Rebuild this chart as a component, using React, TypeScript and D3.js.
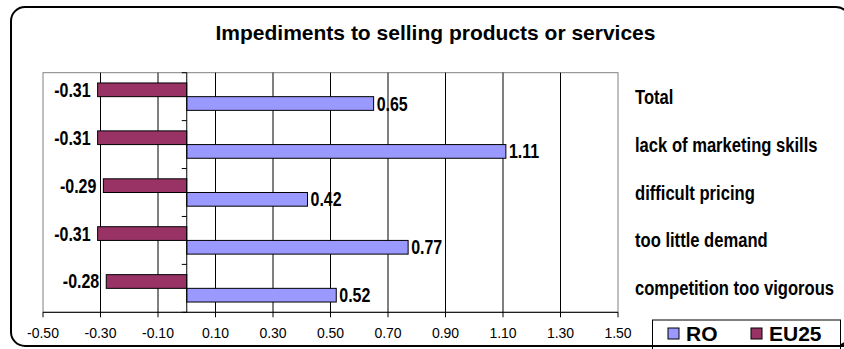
import React from "react";
import * as d3 from "d3";

// Chart data
const categories = [
  "Total",
  "lack of marketing skills",
  "difficult pricing",
  "too little demand",
  "competition too vigorous",
];
const roValues = [0.65, 1.11, 0.42, 0.77, 0.52];
const eu25Values = [-0.31, -0.31, -0.29, -0.31, -0.28];
const seriesNames = ["EU25", "RO"];
const legendNames = ["RO", "EU25"];
const xTickValues = [-0.5, -0.3, -0.1, 0.1, 0.3, 0.5, 0.7, 0.9, 1.1, 1.3, 1.5];
const title = "Impediments to selling products or services";

const W = 844;
const H = 349;
const FONT = "Arial, 'Liberation Sans', Helvetica, sans-serif";
const COLORS: Record<string, string> = { RO: "#9999FF", EU25: "#993366" };

// plain hyphen for negative numbers
const locale = d3.formatLocale({
  decimal: ".",
  thousands: ",",
  grouping: [3],
  currency: ["", ""],
  minus: "-",
});
const fmt = locale.format(".2f");

// tall, narrow bold text used for data and category labels
function TallText(props: {
  x: number;
  y: number;
  size?: number;
  anchor?: "start" | "end" | "middle";
  children: React.ReactNode;
}) {
  return (
    <text
      transform={`translate(${props.x},${props.y}) scale(1,1.22)`}
      textAnchor={props.anchor || "start"}
      fontSize={props.size || 16}
      fontWeight="bold"
      fill="#000"
    >
      {props.children}
    </text>
  );
}

export default function App() {
  const plot = { left: 43, right: 618, top: 72.7, bottom: 312.3 };
  const x = d3.scaleLinear().domain([-0.5, 1.5]).range([plot.left, plot.right]);
  const y = d3.scaleBand<string>().domain(categories).range([plot.top, plot.bottom]);
  const sub = d3
    .scaleBand<string>()
    .domain(seriesNames)
    .range([0, y.bandwidth()])
    .paddingInner(0)
    .paddingOuter(0.75);

  const rows = categories.map((c, i) => ({ cat: c, RO: roValues[i], EU25: eu25Values[i] }));
  const x0 = x(0);
  const baselineShift = 7;

  return (
    <svg
      width={W}
      height={H}
      style={{ position: "absolute", left: 0, top: 0, display: "block", background: "#fff" }}
      fontFamily={FONT}
    >
      {/* outer frame */}
      <rect x={11} y={7} width={839} height={339} rx={14} ry={14} fill="#fff" stroke="#000" strokeWidth={2} />

      <text x={435.5} y={40} textAnchor="middle" fontSize={21} fontWeight="bold" fill="#000">
        {title}
      </text>

      {/* plot area border */}
      <rect
        x={plot.left}
        y={plot.top}
        width={plot.right - plot.left}
        height={plot.bottom - plot.top}
        fill="none"
        stroke="#808080"
        strokeWidth={1}
      />

      {/* vertical gridlines */}
      {xTickValues
        .filter((v) => v > -0.5 && v < 1.5)
        .map((v) => (
          <line key={v} x1={x(v)} x2={x(v)} y1={plot.top} y2={plot.bottom} stroke="#000" strokeWidth={1} />
        ))}

      {/* bars */}
      {rows.map((r) =>
        seriesNames.map((s) => {
          const v = (r as any)[s] as number;
          const by = (y(r.cat) as number) + (sub(s) as number);
          const bx = Math.min(x(v), x0);
          const bw = Math.abs(x(v) - x0);
          return (
            <rect
              key={r.cat + s}
              x={bx}
              y={by}
              width={bw}
              height={sub.bandwidth()}
              fill={COLORS[s]}
              stroke="#000"
              strokeWidth={1}
            />
          );
        })
      )}

      {/* value labels */}
      {rows.map((r) =>
        seriesNames.map((s) => {
          const v = (r as any)[s] as number;
          const cy = (y(r.cat) as number) + (sub(s) as number) + sub.bandwidth() / 2;
          const neg = v < 0;
          return (
            <TallText
              key={"l" + r.cat + s}
              x={neg ? x(v) - 7 : x(v) + 3}
              y={cy + baselineShift}
              anchor={neg ? "end" : "start"}
            >
              {fmt(v)}
            </TallText>
          );
        })
      )}

      {/* zero axis with category ticks */}
      <line x1={x0} x2={x0} y1={plot.top} y2={plot.bottom} stroke="#000" strokeWidth={1} />
      {categories.map((c) => (
        <line key={"t" + c} x1={x0 - 5} x2={x0} y1={y(c) as number} y2={y(c) as number} stroke="#000" />
      ))}
      <line x1={x0 - 5} x2={x0} y1={plot.bottom} y2={plot.bottom} stroke="#000" />

      {/* bottom value axis */}
      <line x1={plot.left} x2={plot.right} y1={plot.bottom} y2={plot.bottom} stroke="#000" strokeWidth={1} />
      {xTickValues.map((v) => (
        <g key={"x" + v}>
          <line x1={x(v)} x2={x(v)} y1={plot.bottom} y2={plot.bottom + 5} stroke="#000" />
          <text x={x(v)} y={338} textAnchor="middle" fontSize={14} fill="#000">
            {fmt(v)}
          </text>
        </g>
      ))}

      {/* category labels on the right */}
      {categories.map((c) => (
        <TallText key={"c" + c} x={635} y={(y(c) as number) + y.bandwidth() / 2 + baselineShift} size={16.6}>
          {c}
        </TallText>
      ))}

      {/* legend */}
      <rect x={652.5} y={320} width={188} height={30} fill="#fff" stroke="#000" strokeWidth={1} />
      {legendNames.map((s, i) => {
        const lx = i === 0 ? 668 : 751;
        return (
          <g key={"lg" + s}>
            <rect x={lx} y={328} width={11} height={11} fill={COLORS[s]} stroke="#000" strokeWidth={1} />
            <text x={lx + 18} y={341} fontSize={21} fontWeight="bold" fill="#000">
              {s}
            </text>
          </g>
        );
      })}
      {/* frame bottom edge drawn over legend */}
      <line x1={30} x2={844} y1={346} y2={346} stroke="#000" strokeWidth={2} />
    </svg>
  );
}
